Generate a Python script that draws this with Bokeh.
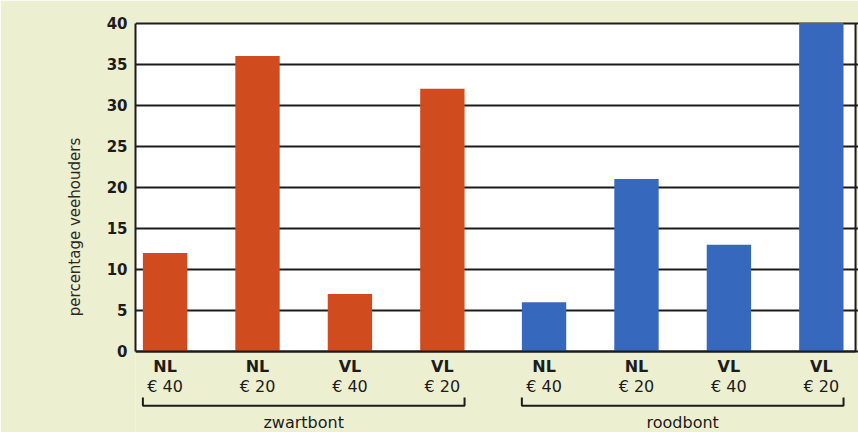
from bokeh.plotting import figure
from bokeh.models import Range1d, FixedTicker, ColumnDataSource
from bokeh.core.properties import value
from bokeh.embed import file_html
from bokeh.resources import INLINE

# ---- data ----
groups = ["zwartbont", "roodbont"]
regions = ["NL", "NL", "VL", "VL"]
prices = ["€ 40", "€ 20", "€ 40", "€ 20"]
zwartbont = [12, 36, 7, 32]
roodbont = [6, 21, 13, 40]
y_ticks = [0, 5, 10, 15, 20, 25, 30, 35, 40]
y_title = "percentage veehouders"

# ---- layout / style ----
GAP = 0.1          # extra gap between the two groups (in bar slots)
BAR_W = 0.48
ORANGE = "#d04c1e"
BLUE = "#3668be"
PANEL = "#edefd1"
INK = "#1c1c1c"
FONT = "DejaVu Sans"

n = len(regions)
x_z = [float(i) for i in range(n)]
x_r = [n + GAP + i for i in range(n)]

X_START, X_END, X_WHITE = -0.320, 7.502, 7.470
Y_START, Y_END = -9.87, 40.19
Y_TOP = y_ticks[-1]
W, H = 858, 432

p = figure(width=W, height=H, output_backend="svg", toolbar_location=None,
           title=None, x_range=Range1d(X_START, X_END), y_range=Range1d(Y_START, Y_END),
           min_border_left=135, min_border_right=0, min_border_top=21, min_border_bottom=0)
p.background_fill_color = PANEL
p.border_fill_color = PANEL
p.outline_line_color = None
p.xaxis.visible = False
p.xgrid.visible = False

# white plotting area (drawn below the grid)
p.quad(left=[X_START], right=[X_WHITE], bottom=[0], top=[Y_TOP],
       fill_color="white", line_color=None, level="image")

# y axis
ticker = FixedTicker(ticks=y_ticks)
ya = p.yaxis[0]
ya.ticker = ticker
ya.bounds = (0, Y_TOP)
ya.axis_line_color = INK
ya.axis_line_width = 2
ya.major_tick_in = 0
ya.major_tick_out = 0
ya.minor_tick_line_color = None
ya.major_label_text_font = FONT
ya.major_label_text_font_style = "bold"
ya.major_label_text_font_size = "15px"
ya.major_label_text_color = INK
ya.major_label_standoff = 8
ya.axis_label = y_title
ya.axis_label_text_font = FONT
ya.axis_label_text_font_style = "normal"
ya.axis_label_text_font_size = "15px"
ya.axis_label_text_color = "#2a2a2a"
ya.axis_label_standoff = 20

p.ygrid.ticker = ticker
p.ygrid.grid_line_color = INK
p.ygrid.grid_line_width = 2

# bars
p.vbar(x=x_z, top=zwartbont, bottom=0, width=BAR_W, fill_color=ORANGE, line_color=None)
p.vbar(x=x_r, top=roodbont, bottom=0, width=BAR_W, fill_color=BLUE, line_color=None)

# baseline and right frame line
p.segment(x0=[X_START], y0=[0], x1=[X_WHITE], y1=[0], line_color=INK, line_width=2)
p.segment(x0=[X_WHITE], y0=[0], x1=[X_WHITE], y1=[Y_TOP], line_color=INK, line_width=2)

# category labels
xs_all = x_z + x_r
lab = ColumnDataSource(dict(x=xs_all, r=regions + regions, pr=prices + prices))
p.text(x="x", y=-1.85, text="r", source=lab, text_align="center", text_baseline="middle",
       text_font=value(FONT), text_font_style="bold", text_font_size="16px", text_color=INK)
p.text(x="x", y=-4.3, text="pr", source=lab, text_align="center", text_baseline="middle",
       text_font=value(FONT), text_font_size="16px", text_color=INK)

# group brackets
for xs in (x_z, x_r):
    l, r = xs[0] - BAR_W / 2, xs[-1] + BAR_W / 2
    p.line(x=[l, l, r, r], y=[-5.6, -6.6, -6.6, -5.6], line_color=INK, line_width=2)
gx = [(x_z[0] + x_z[-1]) / 2, (x_r[0] + x_r[-1]) / 2]
p.text(x=gx, y=[-8.7, -8.7], text=groups, text_align="center", text_baseline="alphabetic",
       text_font=value(FONT), text_font_size="16px", text_color=INK)

open("out.html", "w").write(file_html(p, INLINE))
